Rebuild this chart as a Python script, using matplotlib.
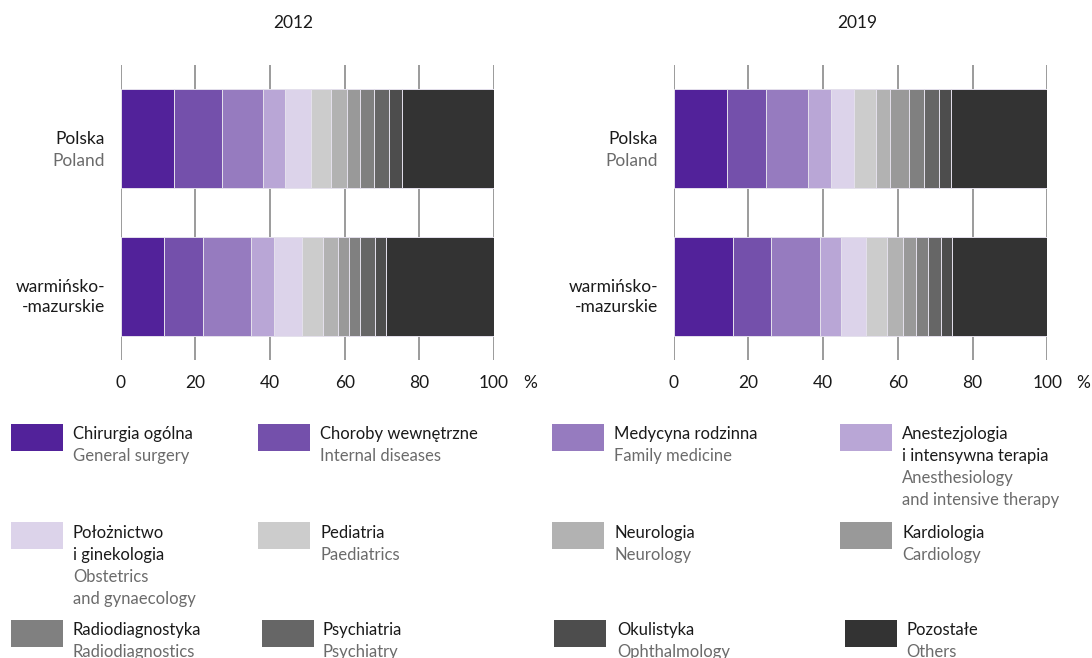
import numpy as np
import matplotlib
matplotlib.use("Agg")
import matplotlib.pyplot as plt
from matplotlib.patches import Rectangle

plt.rcParams['font.family'] = ['Lato', 'DejaVu Sans']

# data (% share of specialists)
regions_pl = ['Polska', 'warmińsko-\n-mazurskie']
regions_en = ['Poland', '']
years = ['2012', '2019']

spec_pl = ['Chirurgia ogólna', 'Choroby wewnętrzne', 'Medycyna rodzinna',
           'Anestezjologia\ni intensywna terapia', 'Położnictwo\ni ginekologia',
           'Pediatria', 'Neurologia', 'Kardiologia', 'Radiodiagnostyka',
           'Psychiatria', 'Okulistyka', 'Pozostałe']
spec_en = ['General surgery', 'Internal diseases', 'Family medicine',
           'Anesthesiology\nand intensive therapy', 'Obstetrics\nand gynaecology',
           'Paediatrics', 'Neurology', 'Cardiology', 'Radiodiagnostics',
           'Psychiatry', 'Ophthalmology', 'Others']

poland_2012 = [14.4, 12.7, 11.0, 5.9, 6.9, 5.4, 4.2, 3.5, 3.9, 3.9, 3.6, 24.6]
wm_2012 = [11.6, 10.5, 12.8, 6.1, 7.6, 5.5, 4.0, 3.0, 3.1, 3.8, 3.0, 29.0]
poland_2019 = [14.4, 10.3, 11.2, 6.2, 6.1, 5.9, 3.8, 5.1, 3.9, 4.0, 3.3, 25.8]
wm_2019 = [16.0, 10.0, 13.2, 5.7, 6.7, 5.4, 4.3, 3.5, 3.4, 3.3, 2.9, 25.6]

colors = ['#52229a', '#7450ab', '#967bbf', '#b9a6d6', '#dcd3ea', '#cccccc',
          '#b2b2b2', '#999999', '#808080', '#666666', '#4d4d4d', '#333333']

W, H = 1092, 658
fig = plt.figure(figsize=(W / 100, H / 100), dpi=100)


def px(x, y):
    return x / W, 1 - y / H


def draw_panel(left_px, right_px, values, year, title_x):
    l, b = px(left_px, 360)
    ax = fig.add_axes([l, b, (right_px - left_px) / W, 295 / H])
    for i, row in enumerate(values):
        left = 0
        for v, c in zip(row, colors):
            ax.barh(i, v, left=left, height=0.67, color=c,
                    edgecolor='#e4e0ec', linewidth=0.7, zorder=3)
            left += v
    for t in range(0, 101, 20):
        ax.axvline(t, color='#8a8a8a', lw=1.2, zorder=1)
    ax.set_xlim(0, 100)
    ax.set_ylim(1.497, -0.497)
    for s in ax.spines.values():
        s.set_visible(False)
    ax.set_xticks(range(0, 101, 20))
    ax.tick_params(axis='x', length=0, pad=11, labelsize=12.5, labelcolor='#1a1a1a')
    ax.set_yticks([])
    fx, fy = px(right_px + 36, 383)
    fig.text(fx, fy, '%', ha='center', va='center', fontsize=12.5, color='#1a1a1a')
    # category labels
    tx = -4.2
    ax.text(tx, 0.0, regions_pl[0], ha='right', va='center', fontsize=12.5, color='#1a1a1a')
    ax.text(tx, 0.15, regions_en[0], ha='right', va='center', fontsize=12.5, color='#6b6b6b')
    ax.text(tx, 1.07, regions_pl[1], ha='right', va='center', fontsize=12.5,
            color='#1a1a1a', linespacing=1.3)
    fx, fy = px(title_x, 23)
    fig.text(fx, fy, year, ha='center', va='center', fontsize=12.5, color='#1a1a1a')
    return ax


draw_panel(120.7, 494.0, [poland_2012, wm_2012], years[0], 293)
draw_panel(673.7, 1047.3, [poland_2019, wm_2019], years[1], 857)

# legend
col_patch_x = [[11, 258, 552, 840], [11, 258, 552, 840], [11, 262, 554, 845]]
col_text_x = [[73, 320, 614, 902], [73, 320, 614, 902], [73, 323, 617, 906]]
row_patch_y = [424, 522, 620]
row_text_y = [434, 533, 630]
line_h = 22

for k in range(len(spec_pl)):
    r, c = divmod(k, 4)
    x0 = col_patch_x[r][c]
    y0 = row_patch_y[r]
    fx, fy = px(x0, y0 + 27)
    fig.patches.append(Rectangle((fx, fy), 52 / W, 27 / H, transform=fig.transFigure,
                                 facecolor=colors[k], edgecolor='none'))
    ty = row_text_y[r]
    n_pl = spec_pl[k].count('\n') + 1
    for j, line in enumerate(spec_pl[k].split('\n')):
        fx, fy = px(col_text_x[r][c], ty + j * line_h)
        fig.text(fx, fy, line, ha='left', va='center', fontsize=12, color='#1a1a1a')
    for j, line in enumerate(spec_en[k].split('\n')):
        fx, fy = px(col_text_x[r][c], ty + (n_pl + j) * line_h)
        fig.text(fx, fy, line, ha='left', va='center', fontsize=12, color='#6b6b6b')

fig.savefig('out.png', dpi=100)
